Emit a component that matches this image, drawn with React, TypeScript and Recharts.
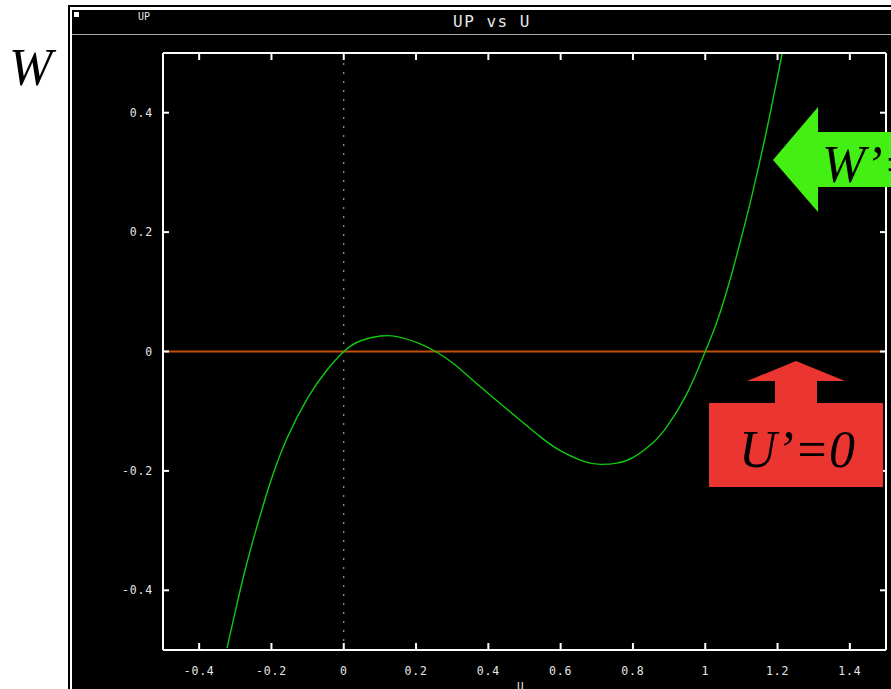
import { LineChart, Line, XAxis, YAxis, ReferenceLine } from "recharts";

// values
const uVals = [
  -0.323, -0.298, -0.275, -0.248, -0.22, -0.197, -0.156, -0.1, -0.05, 0, 0.047,
  0.102, 0.148, 0.203, 0.254, 0.305, 0.374, 0.46, 0.544, 0.599, 0.664, 0.71,
  0.756, 0.802, 0.857, 0.894, 0.949, 1.0, 1.032, 1.069, 1.106, 1.133, 1.17,
  1.198, 1.213,
];
const wVals = [
  -0.497, -0.43, -0.371, -0.31, -0.252, -0.208, -0.144, -0.078, -0.034, 0,
  0.018, 0.026, 0.025, 0.015, 0, -0.021, -0.057, -0.101, -0.143, -0.166, -0.184,
  -0.189, -0.187, -0.177, -0.152, -0.126, -0.071, 0, 0.049, 0.121, 0.205, 0.271,
  0.371, 0.454, 0.5,
];
const xTicks = [-0.4, -0.2, 0, 0.2, 0.4, 0.6, 0.8, 1, 1.2, 1.4];
const yTicks = [-0.4, -0.2, 0, 0.2, 0.4];

const data = uVals.map((u, i) => ({ u, w: wVals[i] }));

const mono = "'DejaVu Sans Mono', monospace";
const serif = "'Liberation Serif', 'DejaVu Serif', serif";
const labelColor = "#e6e6e6";

const BottomTick = (props: any) => {
  const { x, y, payload } = props;
  return (
    <g>
      <line x1={x} x2={x} y1={y} y2={y - 7} stroke="#fff" strokeWidth={2} />
      <text
        x={x}
        y={y + 25}
        textAnchor="middle"
        fill={labelColor}
        fontSize={11.5}
        letterSpacing={0.8}
        fontFamily={mono}
      >
        {String(payload.value)}
      </text>
    </g>
  );
};

const TopTick = (props: any) => {
  const { x, y } = props;
  return <line x1={x} x2={x} y1={y} y2={y + 7} stroke="#fff" strokeWidth={2} />;
};

const LeftTick = (props: any) => {
  const { x, y, payload } = props;
  return (
    <g>
      <line x1={x} x2={x + 6} y1={y} y2={y} stroke="#fff" strokeWidth={2} />
      <text
        x={x - 10}
        y={y + 4}
        textAnchor="end"
        fill={labelColor}
        fontSize={11.5}
        letterSpacing={0.8}
        fontFamily={mono}
      >
        {String(payload.value)}
      </text>
    </g>
  );
};

const RightTick = (props: any) => {
  const { x, y } = props;
  return <line x1={x} x2={x - 6} y1={y} y2={y} stroke="#fff" strokeWidth={2} />;
};

export default function App() {
  return (
    <div
      style={{
        position: "absolute",
        left: 0,
        top: 0,
        width: 891,
        height: 689,
        overflow: "hidden",
        background: "#fff",
      }}
    >
      {/* window frame */}
      <div style={{ position: "absolute", left: 68, top: 5, right: 0, height: 2, background: "#000" }} />
      <div style={{ position: "absolute", left: 68, top: 5, width: 2, bottom: 0, background: "#000" }} />
      <div style={{ position: "absolute", left: 72, top: 10, right: 0, bottom: 0, background: "#000" }} />
      <div style={{ position: "absolute", left: 72, top: 34, right: 0, height: 1, background: "#aaa" }} />
      <div style={{ position: "absolute", left: 74, top: 12, width: 5, height: 5, background: "#fff" }} />
      <div
        style={{
          position: "absolute",
          left: 138,
          top: 11,
          fontFamily: mono,
          fontSize: 10,
          color: labelColor,
        }}
      >
        UP
      </div>
      <div
        style={{
          position: "absolute",
          left: 392,
          width: 200,
          top: 12,
          textAlign: "center",
          fontFamily: mono,
          fontSize: 16,
          letterSpacing: 1.5,
          color: labelColor,
        }}
      >
        UP vs U
      </div>

      <LineChart
        width={891}
        height={689}
        data={data}
        margin={{ top: 52, right: 4, bottom: 0, left: 0 }}
        style={{ position: "absolute", left: 0, top: 0 }}
      >
        <XAxis
          xAxisId="b"
          dataKey="u"
          type="number"
          domain={[-0.5, 1.5]}
          ticks={xTicks}
          height={39}
          tickSize={0}
          tickMargin={0}
          tickLine={false}
          axisLine={{ stroke: "#fff", strokeWidth: 2 }}
          tick={BottomTick}
          interval={0}
        />
        <XAxis
          xAxisId="t"
          dataKey="u"
          orientation="top"
          type="number"
          domain={[-0.5, 1.5]}
          ticks={xTicks}
          height={1}
          tickSize={0}
          tickMargin={0}
          tickLine={false}
          axisLine={{ stroke: "#fff", strokeWidth: 2 }}
          tick={TopTick}
          interval={0}
        />
        <YAxis
          yAxisId="l"
          type="number"
          domain={[-0.5, 0.5]}
          ticks={yTicks}
          width={163}
          tickSize={0}
          tickMargin={0}
          tickLine={false}
          axisLine={{ stroke: "#fff", strokeWidth: 2 }}
          tick={LeftTick}
          interval={0}
        />
        <YAxis
          yAxisId="r"
          orientation="right"
          type="number"
          domain={[-0.5, 0.5]}
          ticks={yTicks}
          width={1}
          tickSize={0}
          tickMargin={0}
          tickLine={false}
          axisLine={{ stroke: "#fff", strokeWidth: 2 }}
          tick={RightTick}
          interval={0}
        />
        <ReferenceLine xAxisId="b" yAxisId="l" x={0} stroke="#bbb" strokeWidth={1} strokeDasharray="2 7" />
        <ReferenceLine xAxisId="b" yAxisId="l" y={0} stroke="#c0500a" strokeWidth={2} />
        <Line
          xAxisId="b"
          yAxisId="l"
          dataKey="w"
          type="natural"
          stroke="#12c812"
          strokeWidth={1.4}
          dot={false}
          isAnimationActive={false}
        />
        {/* invisible series so the top and right frame axes are drawn */}
        <Line
          xAxisId="t"
          yAxisId="r"
          dataKey="w"
          stroke="none"
          dot={false}
          activeDot={false}
          legendType="none"
          isAnimationActive={false}
        />
      </LineChart>

      <div
        style={{
          position: "absolute",
          left: 517,
          top: 680,
          fontFamily: mono,
          fontSize: 11,
          color: labelColor,
        }}
      >
        U
      </div>

      {/* annotations */}
      <div
        style={{
          position: "absolute",
          left: 9,
          top: 38,
          fontFamily: serif,
          fontStyle: "italic",
          fontSize: 52,
          lineHeight: "60px",
          color: "#000",
        }}
      >
        W
      </div>
      <svg width={891} height={689} style={{ position: "absolute", left: 0, top: 0 }}>
        <polygon
          points="773,160 818,107 818,132 891,132 891,187 818,187 818,212"
          fill="#44f014"
        />
        <polygon
          points="796,361 845,381 817,381 817,403 883,403 883,487 709,487 709,403 775,403 775,381 747,381"
          fill="#eb3530"
        />
        <text x={822} y={182} fontFamily={serif} fontStyle="italic" fontSize={52} fill="#000">
          W’=
        </text>
        <text x={797} y={467} textAnchor="middle" fontFamily={serif} fontStyle="italic" fontSize={52} fill="#000">
          U’=0
        </text>
      </svg>
    </div>
  );
}
